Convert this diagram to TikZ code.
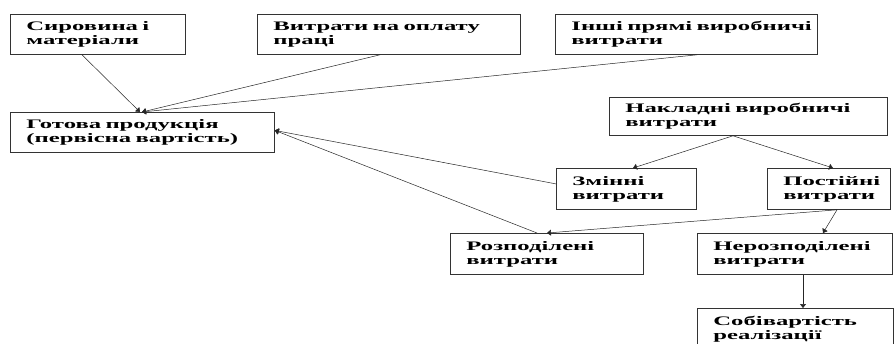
\documentclass[tikz,border=0pt]{standalone}
\usepackage{fontspec}
\setmainfont{Liberation Serif}[FakeStretch=1.9]
\usetikzlibrary{arrows.meta}
\begin{document}
\begin{tikzpicture}[x=1pt,y=-1pt,
  box/.style={draw=black!80, line width=0.8pt, rectangle, anchor=north west,
    inner xsep=16pt, inner ysep=0pt, align=left,
    font=\fontsize{13}{14}\selectfont\bfseries},
  conn/.style={draw=black!85, line width=0.5pt, -{Triangle[length=4pt,width=6pt]}},
  plain/.style={draw=black!85, line width=0.5pt}]
\path[use as bounding box, clip] (0,0) rectangle (896,343);
\fill[white] (0,0) rectangle (896,343);

\node[box, minimum width=175pt, minimum height=40pt, text width=143pt] (A) at (10,14)
  {\mbox{Сировина і}\\\mbox{матеріали}};
\node[box, minimum width=263pt, minimum height=40pt, text width=231pt] (B) at (257,14)
  {\mbox{Витрати на оплату}\\\mbox{праці}};
\node[box, minimum width=262pt, minimum height=40pt, text width=230pt] (C) at (555,14)
  {\mbox{Інші прямі виробничі}\\\mbox{витрати}};
\node[box, minimum width=264pt, minimum height=40pt, text width=232pt] (G) at (10,112)
  {\mbox{Готова продукція}\\\mbox{(первісна вартість)}};
\node[box, minimum width=278pt, minimum height=38pt, text width=246pt] (N) at (609,97)
  {\mbox{Накладні виробничі}\\\mbox{витрати}};
\node[box, minimum width=140pt, minimum height=41pt, text width=108pt] (Z) at (556,168)
  {\mbox{Змінні}\\\mbox{витрати}};
\node[box, minimum width=123pt, minimum height=41pt, text width=91pt] (P) at (767,168)
  {\mbox{Постійні}\\\mbox{витрати}};
\node[box, minimum width=193pt, minimum height=41pt, text width=161pt] (R) at (450,233)
  {\mbox{Розподілені}\\\mbox{витрати}};
\node[box, minimum width=195pt, minimum height=41pt, text width=163pt] (U) at (697,233)
  {\mbox{Нерозподілені}\\\mbox{витрати}};
\node[box, minimum width=196pt, minimum height=41pt, text width=164pt] (S) at (697,308)
  {\mbox{Собівартість}\\\mbox{реалізації}};

\draw[conn] ([xshift=72pt]A.south west) -- ([xshift=130pt]G.north west);
\draw[conn] ([xshift=123pt]B.south west) -- ([xshift=132pt]G.north west);
\draw[conn] ([xshift=142pt]C.south west) -- ([xshift=132pt]G.north west);
\draw[conn] ([yshift=5pt]Z.west) -- ([yshift=2pt]G.east);
\draw[conn] ([xshift=87pt]R.north west) -- ([yshift=2pt]G.east);
\draw[conn] ([xshift=124pt]N.south west) -- ([xshift=77pt]Z.north west);
\draw[conn] ([xshift=124pt]N.south west) -- ([xshift=66pt]P.north west);
\draw[conn] ([xshift=70pt]P.south west) -- ([xshift=97pt]R.north west);
\draw[conn] ([xshift=70pt]P.south west) -- ([xshift=126pt]U.north west);
\draw[conn] ([xshift=106pt]U.south west) -- ([xshift=106pt]S.north west);
\end{tikzpicture}
\end{document}
